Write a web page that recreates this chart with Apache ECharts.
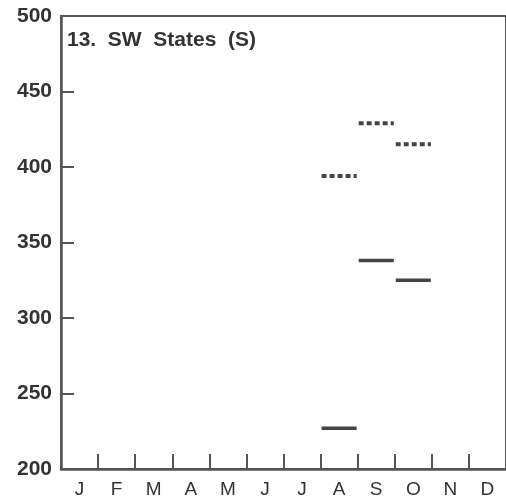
<!DOCTYPE html>
<html><head><meta charset="utf-8">
<script src="https://cdn.jsdelivr.net/npm/echarts@6/dist/echarts.min.js"></script>
<style>html,body{margin:0;padding:0;background:#fff}#c{width:506px;height:500px}</style>
</head><body><div id="c"></div>
<script>
const months = ['J','F','M','A','M','J','J','A','S','O','N','D'];
const yTicks = [200, 250, 300, 350, 400, 450, 500];
const solidIdx = [7, 8, 9];
const solidVals = [227, 338, 325];
const dottedIdx = [7, 8, 9];
const dottedVals = [394, 429, 415];
const title = '13.  SW  States  (S)';

const chart = echarts.init(document.getElementById('c'));
function seg(dash, width) {
  return function (params, api) {
    const c = api.coord([api.value(0), api.value(1)]);
    const w = api.size([1, 0])[0];
    return {
      type: 'line',
      shape: { x1: c[0] - w / 2 + 1, y1: c[1], x2: c[0] + w / 2 - 1, y2: c[1] },
      style: { stroke: '#444', lineWidth: width, lineDash: dash }
    };
  };
}
chart.setOption({
  animation: false,
  title: { text: title, left: 67, top: 30, padding: 0, textStyle: { fontFamily: 'Liberation Sans', fontSize: 21, fontWeight: 'bold', color: '#333' } },
  grid: { left: 61, top: 16, right: 0, bottom: 31, show: true, borderColor: '#555', borderWidth: 2 },
  xAxis: {
    type: 'category', data: months, boundaryGap: true,
    axisLine: { show: true, lineStyle: { color: '#555', width: 2.5 } },
    axisTick: { show: true, inside: true, length: 15, interval: 0, alignWithLabel: false, lineStyle: { color: '#555', width: 2 } },
    axisLabel: { color: '#333', fontFamily: 'Liberation Sans', fontSize: 19, margin: 11 }
  },
  yAxis: {
    type: 'value', min: 200, max: 500, interval: 50,
    splitLine: { show: false },
    axisLine: { show: true, lineStyle: { color: '#555', width: 2.5 } },
    axisTick: { show: true, inside: true, length: 13, lineStyle: { color: '#555', width: 2 } },
    axisLabel: { color: '#333', fontFamily: 'Liberation Sans', fontSize: 21, fontWeight: 'bold', margin: 9,
      formatter: v => yTicks.includes(v) ? String(v) : '' }
  },
  series: [
    { type: 'custom', renderItem: seg(null, 3.5), data: solidIdx.map((m, i) => [m, solidVals[i]]) },
    { type: 'custom', renderItem: seg([5, 3], 4), data: dottedIdx.map((m, i) => [m, dottedVals[i]]) }
  ]
});
</script></body></html>
